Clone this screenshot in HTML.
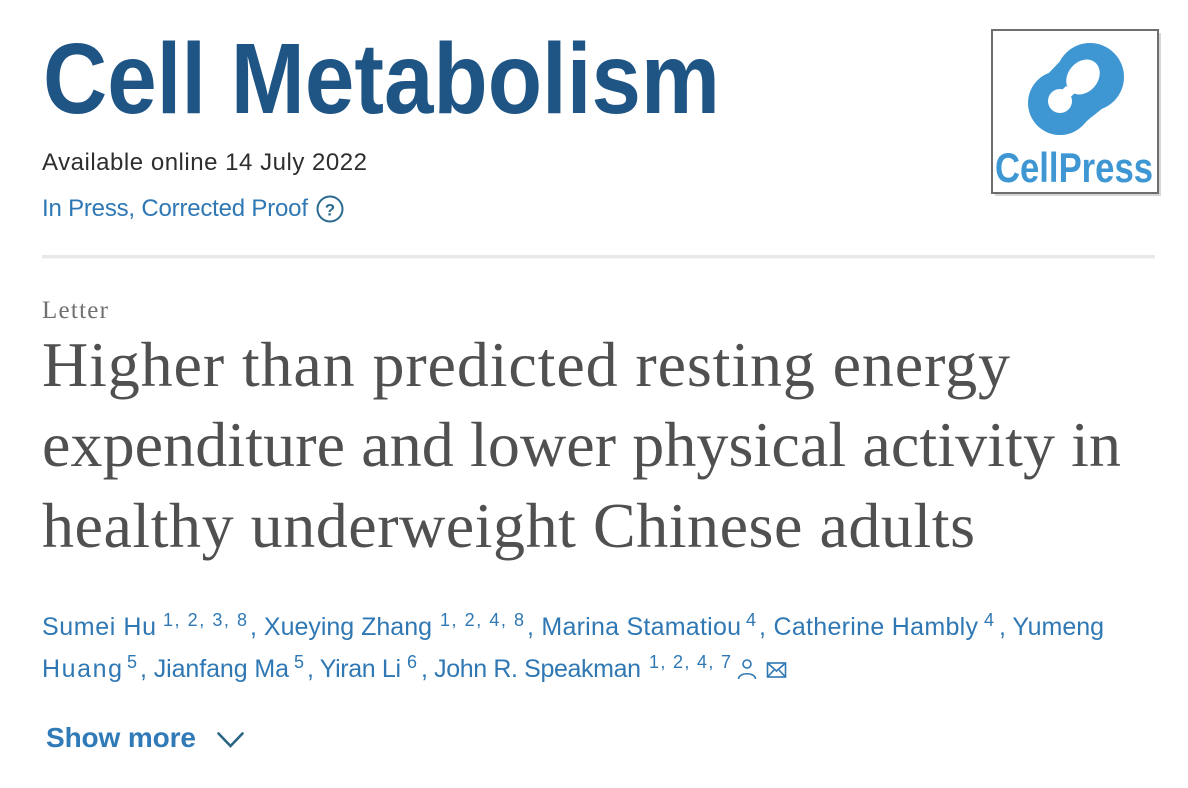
<!DOCTYPE html>
<html>
<head>
<meta charset="utf-8">
<style>
  html, body { margin: 0; padding: 0; background: #ffffff; }
  body { width: 1188px; height: 788px; overflow: hidden; }
  svg { display: block; }
  .sans { font-family: "Liberation Sans", "DejaVu Sans", sans-serif; }
  .serif { font-family: "Liberation Serif", "DejaVu Serif", serif; }
</style>
</head>
<body>
<svg width="1188" height="788" viewBox="0 0 1188 788" xmlns="http://www.w3.org/2000/svg">
  <rect x="0" y="0" width="1188" height="788" fill="#ffffff"/>

  <!-- Journal title -->
  <text class="sans" x="43" y="113" font-size="100" font-weight="bold" fill="#1f5585"
        textLength="677" lengthAdjust="spacingAndGlyphs">Cell Metabolism</text>

  <!-- Available online -->
  <text class="sans" x="42" y="170" font-size="24" fill="#2e2e2e"
        textLength="325" lengthAdjust="spacing">Available online 14 July 2022</text>

  <!-- In Press -->
  <text class="sans" x="42" y="216" font-size="24" fill="#2f78b4"
        textLength="266" lengthAdjust="spacing">In Press, Corrected Proof</text>
  <circle cx="330" cy="209" r="12.5" fill="none" stroke="#2b6a8f" stroke-width="2"/>
  <text class="sans" x="330" y="215.5" font-size="17" font-weight="bold" fill="#2b6a8f" text-anchor="middle">?</text>

  <!-- CellPress logo -->
  <rect x="995" y="33" width="166" height="163" fill="#c4c4c4" opacity="0.7"/>
  <rect x="992" y="30" width="166" height="163" fill="#ffffff" stroke="#6e6e6e" stroke-width="2"/>
  <g fill="#3e97d3">
    <circle cx="1090" cy="77" r="34"/>
    <circle cx="1060" cy="103" r="32"/>
    <path d="M1044 78 C1060 62 1070 48 1088 43 L1122 82 C1116 100 1100 110 1088 120 C1080 128 1072 134 1060 135 L1029 100 Z"/>
  </g>
  <g fill="#ffffff">
    <ellipse cx="1083" cy="77" rx="15" ry="19" transform="rotate(40 1083 77)"/>
    <circle cx="1060" cy="101" r="12"/>
    <path d="M1066 86 L1075 93 L1067 100 L1059 93 Z"/>
  </g>
  <text class="sans" x="995" y="182" font-size="42" font-weight="bold" fill="#3e97d3"
        textLength="158" lengthAdjust="spacingAndGlyphs">CellPress</text>

  <!-- Separator -->
  <rect x="42" y="255" width="1113" height="3.5" fill="#e8e8e8"/>

  <!-- Article type -->
  <text class="serif" x="42" y="318" font-size="25" fill="#707070"
        textLength="66" lengthAdjust="spacing">Letter</text>

  <!-- Title -->
  <text class="serif" x="42" y="386" font-size="64" fill="#505050"
        textLength="968" lengthAdjust="spacing">Higher than predicted resting energy</text>
  <text class="serif" x="42" y="466" font-size="64" fill="#505050"
        textLength="1079" lengthAdjust="spacing">expenditure and lower physical activity in</text>
  <text class="serif" x="42" y="547" font-size="64" fill="#505050"
        textLength="933" lengthAdjust="spacing">healthy underweight Chinese adults</text>

  <!-- Authors line 1 -->
  <g class="sans" fill="#2f78b4">
    <text x="42" y="635" font-size="25" textLength="114" lengthAdjust="spacing">Sumei Hu</text>
    <text x="163" y="626" font-size="18" textLength="84" lengthAdjust="spacing">1, 2, 3, 8</text>
    <text x="250" y="635" font-size="25" textLength="182" lengthAdjust="spacing">, Xueying Zhang</text>
    <text x="440" y="626" font-size="18" textLength="84" lengthAdjust="spacing">1, 2, 4, 8</text>
    <text x="527" y="635" font-size="25" textLength="214" lengthAdjust="spacing">, Marina Stamatiou</text>
    <text x="746" y="626" font-size="18">4</text>
    <text x="759" y="635" font-size="25" textLength="219" lengthAdjust="spacing">, Catherine Hambly</text>
    <text x="984" y="626" font-size="18">4</text>
    <text x="999" y="635" font-size="25" textLength="105" lengthAdjust="spacing">, Yumeng</text>

    <!-- Authors line 2 -->
    <text x="42" y="677" font-size="25" textLength="80" lengthAdjust="spacing">Huang</text>
    <text x="127" y="668" font-size="18">5</text>
    <text x="140" y="677" font-size="25" textLength="149" lengthAdjust="spacing">, Jianfang Ma</text>
    <text x="294" y="668" font-size="18">5</text>
    <text x="307" y="677" font-size="25" textLength="94" lengthAdjust="spacing">, Yiran Li</text>
    <text x="407" y="668" font-size="18">6</text>
    <text x="421" y="677" font-size="25" textLength="220" lengthAdjust="spacing">, John R. Speakman</text>
    <text x="649" y="668" font-size="18" textLength="82" lengthAdjust="spacing">1, 2, 4, 7</text>
  </g>

  <!-- person icon -->
  <g fill="none" stroke="#2f78b4" stroke-width="1.6">
    <circle cx="747" cy="664" r="4"/>
    <path d="M738.5 679 C739 672 755 672 755.5 679"/>
  </g>
  <!-- envelope icon -->
  <g fill="none" stroke="#2f78b4" stroke-width="1.6">
    <rect x="767.5" y="663" width="18" height="14"/>
    <path d="M767.5 663 L776.5 671 L785.5 663"/>
    <path d="M767.5 677 L774 670"/>
    <path d="M785.5 677 L779 670"/>
  </g>

  <!-- Show more -->
  <text class="sans" x="46" y="747" font-size="28" font-weight="bold" fill="#2f7ab7"
        textLength="150" lengthAdjust="spacing">Show more</text>
  <path d="M218.5 733.5 L230.5 746 L242.5 733.5" fill="none" stroke="#2b6584" stroke-width="2.6" stroke-linecap="round" stroke-linejoin="miter"/>
</svg>
</body>
</html>
